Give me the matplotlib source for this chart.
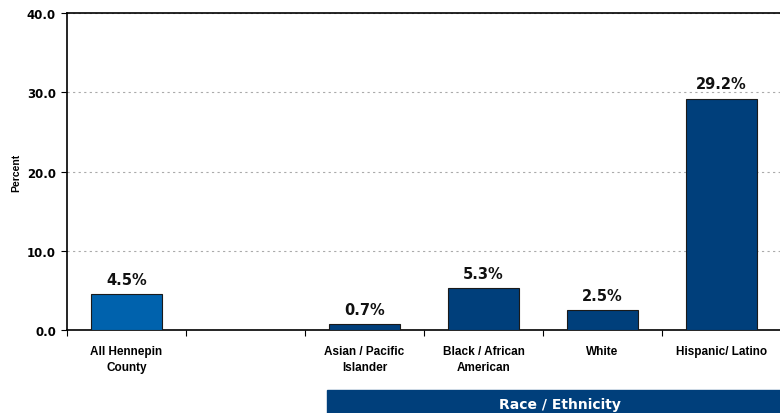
import matplotlib.pyplot as plt
import numpy as np
from matplotlib.patches import Rectangle

categories = ["All Hennepin\nCounty", "", "Asian / Pacific\nIslander",
              "Black / African\nAmerican", "White", "Hispanic/ Latino"]
values = [4.5, None, 0.7, 5.3, 2.5, 29.2]
colors = ["#0062AD", None, "#003F7B", "#003F7B", "#003F7B", "#003F7B"]
y_ticks = [0, 10, 20, 30, 40]

fig = plt.figure(figsize=(7.8, 4.14), dpi=100)
ax = fig.add_axes([67 / 780, 1 - 331 / 414, 714 / 780, 317 / 414])

x = np.arange(len(categories))
for xi, v, c in zip(x, values, colors):
    if v is None:
        continue
    ax.bar(xi, v, width=0.6, color=c, edgecolor="#1a1a1a", linewidth=0.8, zorder=3)
    ax.text(xi, v + 0.9, f"{v:.1f}%", ha="center", va="bottom",
            fontsize=10.5, fontweight="bold", fontfamily="DejaVu Sans",
            color="#111111")

ax.set_xlim(-0.5, len(categories) - 0.5)
ax.set_ylim(0, 40)
ax.set_yticks(y_ticks)
ax.set_yticklabels([f"{t:.1f}" for t in y_ticks], fontsize=8.5,
                   fontweight="bold", fontfamily="DejaVu Sans")
ax.yaxis.grid(True, ls=(0, (2, 3)), color="#aaaaaa", lw=0.8, zorder=0)

# ticks sit between the categories, labels under each bar
ax.set_xticks(np.arange(-0.5, len(categories), 1.0))
ax.set_xticklabels([])
ax.set_xticks(x, minor=True)
ax.set_xticklabels(categories, minor=True, fontsize=8.5, fontweight="bold",
                   fontfamily="Liberation Sans", linespacing=1.45)
ax.tick_params(axis="x", which="minor", length=0, pad=11)
ax.tick_params(axis="x", which="major", length=4, direction="out")
ax.tick_params(axis="y", length=4, direction="out", pad=4)

for s in ax.spines.values():
    s.set_linewidth(1.2)

ax.set_ylabel("Percent", fontsize=7.5, fontweight="bold",
              fontfamily="Liberation Sans", labelpad=4)

# banner under the race groups
fig.patches.append(Rectangle((327 / 780, 0), 1 - 327 / 780, 23 / 414,
                             transform=fig.transFigure, color="#003F7B", zorder=5))
fig.text(560 / 780, 9 / 414, "Race / Ethnicity", color="white",
         fontsize=10, fontweight="bold", fontfamily="DejaVu Sans",
         ha="center", va="center", zorder=6)

fig.savefig("out.png", dpi=100)
